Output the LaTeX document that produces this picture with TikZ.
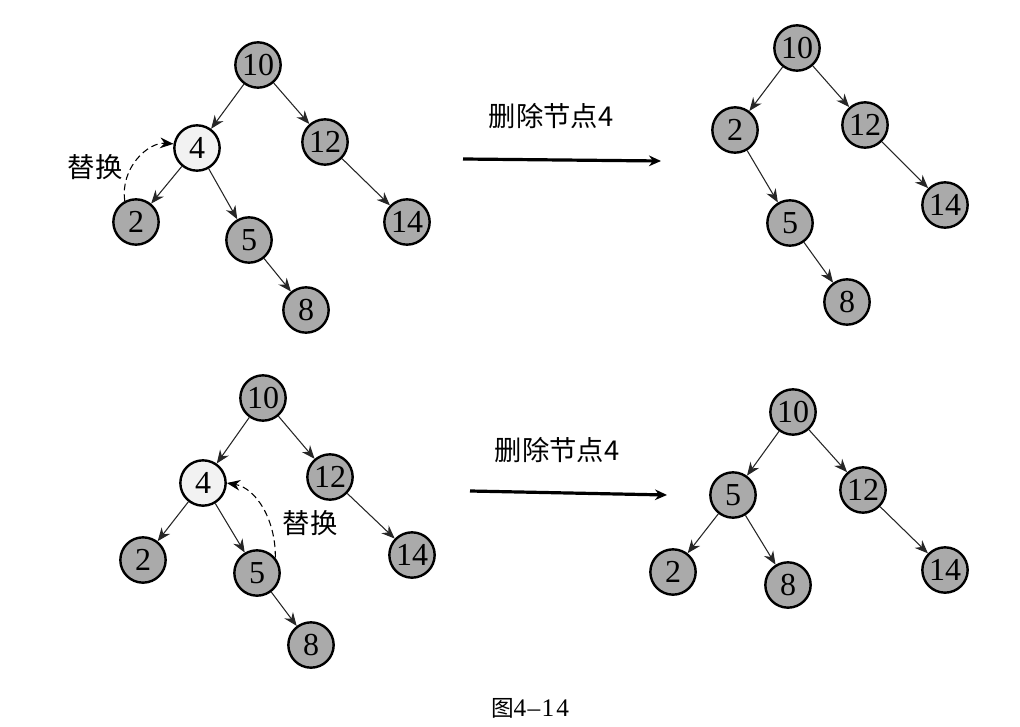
\documentclass[tikz,border=0pt]{standalone}
\usepackage{fontspec}
\setmainfont{Liberation Serif}
\newfontfamily\cjk{Noto Sans CJK SC}
\newfontfamily\capdigits{Liberation Serif}
\usetikzlibrary{arrows.meta}
\definecolor{nodegray}{RGB}{170,170,170}
\definecolor{nodelight}{RGB}{242,242,242}
\begin{document}
\begin{tikzpicture}[x=0.75pt,y=-0.75pt,
  tn/.style={circle,draw=black,line width=1.8pt,fill=nodegray,minimum size=34pt,inner sep=0pt,font=\capdigits\fontsize{24}{24}\selectfont},
  tl/.style={tn,fill=nodelight},
  edge/.style={-{Stealth[length=10pt,width=8pt]},line width=0.8pt,draw=black!85},
  swap/.style={dash pattern=on 5pt off 3pt,line width=0.8pt,-{Stealth[length=10pt,width=8pt]}},
  bigarrow/.style={line width=2.4pt,-{Stealth[length=9pt,width=8pt]}},
  lbl/.style={font=\cjk\fontsize{20.5}{20.5}\selectfont,inner sep=0pt}]
\useasboundingbox (0,0) rectangle (1020,727);
% ---------- top-left tree
\node[tn] (a10) at (258,65) {10};
\node[tl] (a4) at (197,148) {4};
\node[tn] (a12) at (325,142) {12};
\node[tn] (a2) at (136,222) {2};
\node[tn] (a5) at (249,240) {5};
\node[tn] (a14) at (407,222) {14};
\node[tn] (a8) at (306,310) {8};
\draw[edge] (a10) -- (a4);
\draw[edge] (a10) -- (a12);
\draw[edge] (a4) -- (a2);
\draw[edge] (a4) -- (a5);
\draw[edge] (a12) -- (a14);
\draw[edge] (a5) -- (a8);
\draw[swap] (a2.118) .. controls (120,168) and (148,142) .. (a4.170);
\node[lbl] (s1) at (95,167) {替换};
% ---------- top arrow
\coordinate (r1s) at (463,159);
\coordinate (r1e) at (661,161);
\draw[bigarrow] (r1s) -- (r1e);
\node[lbl] (t1) at (551,116) {删除节点4};
% ---------- top-right tree
\node[tn] (b10) at (797,48) {10};
\node[tn] (b2) at (735,130) {2};
\node[tn] (b12) at (865,125) {12};
\node[tn] (b5) at (790,223) {5};
\node[tn] (b14) at (945,205) {14};
\node[tn] (b8) at (847,302) {8};
\draw[edge] (b10) -- (b2);
\draw[edge] (b10) -- (b12);
\draw[edge] (b2) -- (b5);
\draw[edge] (b5) -- (b8);
\draw[edge] (b12) -- (b14);
% ---------- bottom-left tree
\node[tn] (c10) at (263,398) {10};
\node[tl] (c4) at (203,483) {4};
\node[tn] (c12) at (330,477) {12};
\node[tn] (c2) at (143,560) {2};
\node[tn] (c5) at (257,573) {5};
\node[tn] (c14) at (412,555) {14};
\node[tn] (c8) at (311,645) {8};
\draw[edge] (c10) -- (c4);
\draw[edge] (c10) -- (c12);
\draw[edge] (c4) -- (c2);
\draw[edge] (c4) -- (c5);
\draw[edge] (c12) -- (c14);
\draw[edge] (c5) -- (c8);
\draw[swap] (c5.40) .. controls (276,520) and (256,488) .. (c4.east);
\node[lbl] (s2) at (310,523) {替换};
% ---------- bottom arrow
\coordinate (r2s) at (470,491);
\coordinate (r2e) at (667,495);
\draw[bigarrow] (r2s) -- (r2e);
\node[lbl] (t2) at (557,450) {删除节点4};
% ---------- bottom-right tree
\node[tn] (d10) at (793,412) {10};
\node[tn] (d5) at (733,495) {5};
\node[tn] (d12) at (863,490) {12};
\node[tn] (d2) at (673,572) {2};
\node[tn] (d8) at (788,585) {8};
\node[tn] (d14) at (945,570) {14};
\draw[edge] (d10) -- (d5);
\draw[edge] (d10) -- (d12);
\draw[edge] (d5) -- (d2);
\draw[edge] (d5) -- (d8);
\draw[edge] (d12) -- (d14);
% ---------- caption
\node[inner sep=0pt] (cap) at (530,708) {{\cjk\fontsize{17}{17}\selectfont 图}{\capdigits\fontsize{19}{19}\selectfont 4\kern1pt\textendash\kern1pt1\kern1.5pt4}};
\end{tikzpicture}
\end{document}
